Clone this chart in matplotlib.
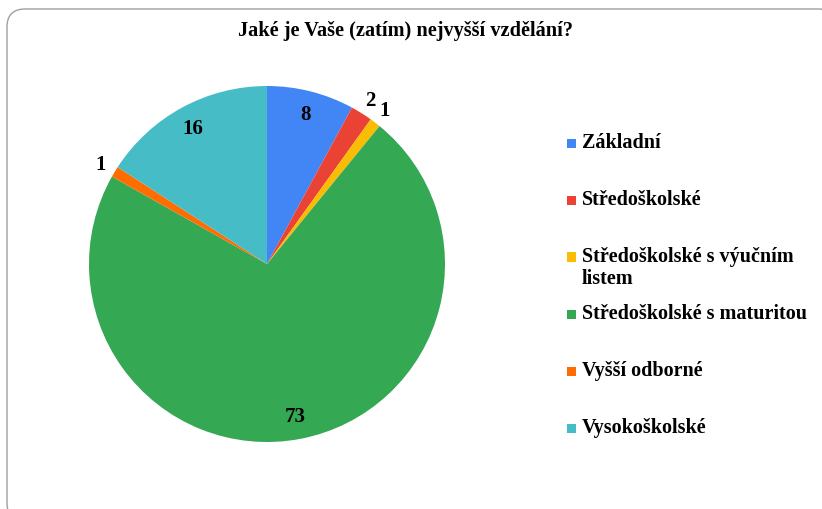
import matplotlib.pyplot as plt
import numpy as np
from matplotlib.patches import FancyBboxPatch, Rectangle

# education level survey answers
categories = ['Základní', 'Středoškolské', 'Středoškolské s výučním\nlistem',
              'Středoškolské s maturitou', 'Vyšší odborné', 'Vysokoškolské']
counts = [8, 2, 1, 73, 1, 16]
colors = ['#4285F4', '#EA4335', '#FBBC04', '#34A853', '#FF6D01', '#46BDC6']

font = ['Liberation Serif', 'DejaVu Serif']
plt.rcParams['font.family'] = font

fig = plt.figure(figsize=(8.22, 5.10), dpi=100)

# rounded frame, runs off the right and bottom edge
frame = FancyBboxPatch((7 / 822, -12 / 510), 832 / 822, 512 / 510,
                       boxstyle='round,pad=0,rounding_size=0.022',
                       transform=fig.transFigure, fill=False,
                       edgecolor='#a0a0a0', linewidth=1.0, mutation_aspect=822 / 510)
fig.patches.append(frame)

fig.text(405 / 822, 1 - 31 / 510, 'Jaké je Vaše (zatím) nejvyšší vzdělání?',
         ha='center', va='center', fontsize=14.6, fontweight='bold')

ax = fig.add_axes([(267 - 178) / 822, 1 - (265 + 178) / 510, 356 / 822, 356 / 510])
wedges, _ = ax.pie(counts, colors=colors, startangle=90, counterclock=False,
                   radius=1.0, wedgeprops=dict(linewidth=0))
ax.set_xlim(-1, 1)
ax.set_ylim(-1, 1)
ax.set_aspect('equal')
ax.axis('off')

# value labels: inside for big slices, just outside for thin ones
for w, v in zip(wedges, counts):
    ang = np.deg2rad((w.theta1 + w.theta2) / 2)
    r = 0.87 if v >= 5 else 1.09
    ax.text(r * np.cos(ang), r * np.sin(ang), str(v), ha='center', va='center',
            fontsize=15, fontweight='bold', clip_on=False)

# legend on the right
for i, (lab, c) in enumerate(zip(categories, colors)):
    y = 144 + 57 * i
    fig.patches.append(Rectangle((567 / 822, 1 - (y + 4.5) / 510), 9 / 822, 9 / 510,
                                 transform=fig.transFigure, facecolor=c, edgecolor='none'))
    fig.text(582 / 822, 1 - (y - 11) / 510, lab, ha='left', va='top',
             fontsize=14.5, fontweight='bold', linespacing=1.15)

fig.savefig('out.png', dpi=100)
